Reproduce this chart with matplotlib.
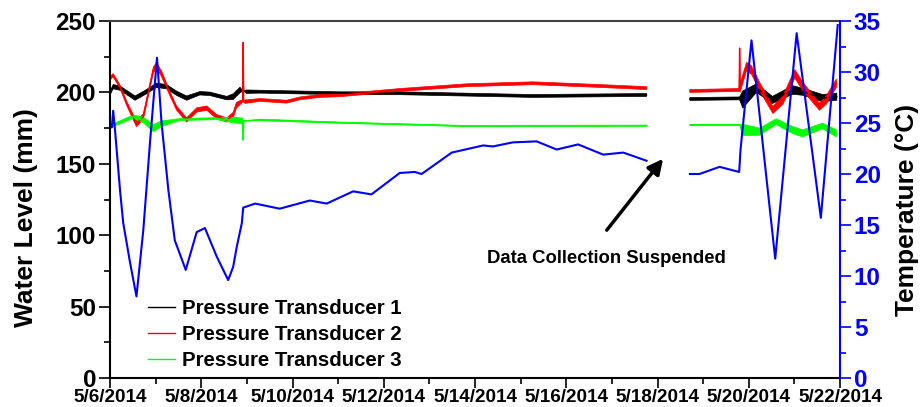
import numpy as np
import matplotlib
matplotlib.use("Agg")
import matplotlib.pyplot as plt
from matplotlib.ticker import MultipleLocator

plt.rcParams['font.family'] = ['Liberation Sans', 'DejaVu Sans']
plt.rcParams['font.weight'] = 'bold'

# x values are days after 5/6/2014
tick_days = [0, 2, 4, 6, 8, 10, 12, 14, 16]
tick_labels = ["5/6/2014", "5/8/2014", "5/10/2014", "5/12/2014", "5/14/2014",
               "5/16/2014", "5/18/2014", "5/20/2014", "5/22/2014"]

# Pressure transducer 1 (mm) and its noise half-width
pt1_day = [0.00, 0.07, 0.22, 0.55, 0.80, 1.02, 1.24, 1.46, 1.68, 1.97, 2.19, 2.56, 2.70,
           2.85, 2.91, 2.92, 2.93, 2.99, 3.29, 5.04, 6.35, 9.27, 11.76, np.nan,
           12.71, 13.80, 13.87, 14.17, 14.52, 14.96, 15.18, 15.62, 15.93]
pt1_mm = [199.4, 204, 203, 196, 200.5, 205, 204, 199.4, 196, 199.4, 199, 196, 197,
          201.7, 201, 207, 201, 200.5, 200.5, 199.4, 199.4, 197.5, 198.2, np.nan,
          195.4, 195.8, 195, 203, 194.7, 201.7, 200.5, 196, 197]
pt1_noise = [1.2, 1.5, 1.5, 1.5, 1.5, 1.5, 1.5, 1.5, 1.5, 1.2, 1.2, 1.2, 2,
             2, 0, 0, 0, 1.2, 1, 1, 1, 1, 1, np.nan,
             1, 1, 6, 3, 2.5, 3, 2.5, 2.5, 2.5]

# Pressure transducer 2 (mm)
pt2_day = [0.00, 0.07, 0.22, 0.37, 0.58, 0.73, 0.95, 1.02, 1.13, 1.31, 1.46, 1.68, 1.90,
           2.12, 2.34, 2.56, 2.70, 2.77, 2.88, 2.91, 2.92, 2.93, 2.96, 3.29, 3.87, 4.16,
           4.60, 5.04, 6.35, 7.81, 9.27, 10.73, 11.76, np.nan,
           12.71, 13.79, 13.80, 13.81, 13.95, 14.06, 14.24, 14.53, 14.75, 15.01, 15.19,
           15.55, 15.70, 15.92]
pt2_mm = [209.8, 212, 204, 192, 178, 183, 215.7, 219, 213, 199.4, 189, 180.7, 187.7,
          189, 183, 180.7, 184, 191, 193.5, 193.5, 235, 193.5, 193.5, 194.7, 193.5, 195.8,
          197.5, 198, 201.7, 205, 206.4, 204.5, 203, np.nan,
          201, 201.7, 231, 203, 218, 215.7, 204, 187.7, 194.7, 213, 204,
          190, 194.7, 206.4]
pt2_noise = [1.2, 1.2, 1.2, 1.5, 2, 2, 2, 2, 2, 1.5, 1.5, 1.5, 1.5,
             1.5, 1.5, 1.5, 2, 2, 1.2, 0, 0, 0, 1.2, 1, 1, 1,
             1, 1, 1, 1, 1, 1, 1, np.nan,
             1, 1, 0, 3, 3, 3, 3, 2.5, 3, 3, 3,
             2.5, 3, 3]

# Pressure transducer 3 (mm)
pt3_day = [0.00, 0.07, 0.51, 0.73, 0.95, 1.13, 1.53, 2.34, 2.70, 2.91, 2.92, 2.93,
           3.29, 5.04, 7.73, 11.76, np.nan,
           12.71, 13.80, 13.87, 14.24, 14.60, 14.96, 15.18, 15.62, 15.92]
pt3_mm = [174.9, 177, 183, 180.7, 175, 178, 181, 181.6, 180.7, 180, 166.7, 180,
          180.7, 178.8, 176.5, 176.7, np.nan,
          177.2, 177.2, 173.7, 172.5, 179.5, 173.7, 171.3, 176.5, 171.3]
pt3_noise = [0.7, 1, 1.2, 2, 2.5, 2, 0.7, 0.7, 2, 2, 0, 0,
             0.6, 0.4, 0.4, 0.4, np.nan,
             0.3, 0.3, 4, 2.5, 2, 2.5, 2.5, 2, 2.5]

# Temperature (deg C)
temp_day = [0.04, 0.07, 0.11, 0.22, 0.29, 0.44, 0.58, 0.73, 0.88, 1.03, 1.13, 1.28, 1.42,
            1.66, 1.90, 2.08, 2.34, 2.59, 2.70, 2.78, 2.89, 2.92, 3.18, 3.72, 4.38, 4.75,
            5.33, 5.73, 6.35, 6.68, 6.83, 7.49, 8.18, 8.39, 8.83, 9.35, 9.79, 10.26, 10.81,
            11.25, 11.76, np.nan,
            12.71, 12.92, 13.36, 13.79, 13.82, 14.06, 14.58, 15.05, 15.58, 15.95]
temp_c = [24.6, 26.2, 24.3, 18.4, 15.2, 11.3, 8.0, 14.5, 23.3, 31.4, 25.0, 18.4, 13.5,
          10.6, 14.3, 14.7, 11.9, 9.6, 10.9, 12.9, 15.2, 16.7, 17.1, 16.6, 17.4, 17.1,
          18.3, 18.0, 20.1, 20.2, 20.0, 22.1, 22.8, 22.7, 23.1, 23.2, 22.4, 22.9, 21.9,
          22.1, 21.3, np.nan,
          20.0, 20.0, 20.7, 20.2, 22.4, 33.1, 11.7, 33.8, 15.7, 34.6]

series = [
    ("Pressure Transducer 1", pt1_day, pt1_mm, pt1_noise, "black"),
    ("Pressure Transducer 2", pt2_day, pt2_mm, pt2_noise, "#ff0000"),
    ("Pressure Transducer 3", pt3_day, pt3_mm, pt3_noise, "#00ff00"),
]

fig = plt.figure(figsize=(9.21, 4.07), dpi=100)
ax = fig.add_axes([110 / 921, 1 - 378 / 407, 730 / 921, 357 / 407])

for label, d, v, n, color in series:
    d = np.array(d)
    v = np.array(v)
    n = np.array(n)
    ax.fill_between(d, v - n, v + n, color=color, lw=0.5)
    ax.plot(d, v, color=color, lw=1.0, label=label)

ax.set_xlim(0, 16)
ax.set_ylim(0, 250)
ax.set_xticks(tick_days)
ax.set_xticklabels(tick_labels)
ax.xaxis.set_minor_locator(MultipleLocator(1))
ax.yaxis.set_major_locator(MultipleLocator(50))
ax.yaxis.set_minor_locator(MultipleLocator(25))
ax.tick_params(axis='x', which='major', labelsize=13.6, length=7, width=1.2, pad=1)
ax.tick_params(axis='y', which='major', labelsize=17.5, length=8, width=1.2, pad=2)
ax.tick_params(which='minor', length=4, width=1.2)
for lbl in ax.get_xticklabels() + ax.get_yticklabels():
    lbl.set_fontweight('bold')
ax.set_ylabel("Water Level (mm)", fontsize=19, fontweight='bold')
ax.yaxis.set_label_coords(-0.098, 0.45)
for side in ['left', 'bottom', 'top']:
    ax.spines[side].set_linewidth(1.5)
ax.spines['top'].set_color('#404040')
ax.spines['right'].set_visible(False)

leg = ax.legend(loc='upper left', bbox_to_anchor=(148 / 921, 1 - 299 / 407),
                bbox_transform=fig.transFigure,
                frameon=False, fontsize=14.7, handlelength=1.3, handletextpad=0.35,
                labelspacing=0.35, borderpad=0, borderaxespad=0)
for t in leg.get_texts():
    t.set_fontweight('bold')
for h in leg.get_lines():
    h.set_linewidth(1.0)

ax2 = ax.twinx()
ax2.plot(temp_day, temp_c, color='#0000ff', lw=1.5)
ax2.set_ylim(0, 35)
ax2.yaxis.set_major_locator(MultipleLocator(5))
ax2.yaxis.set_minor_locator(MultipleLocator(2.5))
ax2.tick_params(axis='y', which='major', labelsize=17.5, length=8, width=1.2, pad=2,
                colors='#0000ff')
ax2.tick_params(axis='y', which='minor', length=4, width=1.2, colors='#0000ff')
for lbl in ax2.get_yticklabels():
    lbl.set_fontweight('bold')
for side in ['left', 'bottom', 'top']:
    ax2.spines[side].set_visible(False)
ax2.spines['right'].set_color('#0000ff')
ax2.spines['right'].set_linewidth(1.5)
ax2.set_ylabel("Temperature (\u00b0C)", fontsize=19, fontweight='bold')
ax2.yaxis.set_label_coords(1.075, 0.47)

ax.annotate("", xy=(12.16, 155), xytext=(10.85, 102),
            arrowprops=dict(arrowstyle='-|>,head_length=0.9,head_width=0.45',
                            color='black', lw=2.5))
ax.text(10.89, 84, "Data Collection Suspended", fontsize=13.3, fontweight='bold',
        ha='center', va='center')

fig.savefig("out.png", dpi=100)
